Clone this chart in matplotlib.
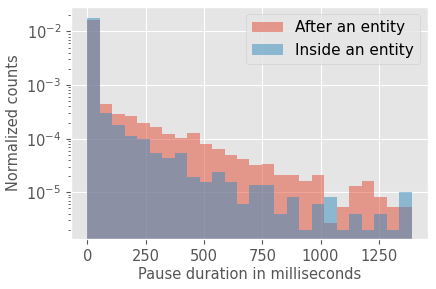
import numpy as np
import matplotlib
matplotlib.use("Agg")
import matplotlib.pyplot as plt

plt.style.use("ggplot")

# Bin edges (ms)
bin_edges = np.linspace(0, 1390, 27)

after_entity = [1.65e-2, 4.43e-4, 2.88e-4, 2.61e-4, 1.96e-4, 1.68e-4, 1.21e-4, 1.01e-4,
                1.26e-4, 7.83e-5, 6.32e-5, 5.03e-5, 4.24e-5, 3.18e-5, 3.42e-5, 2.13e-5,
                2.13e-5, 1.60e-5, 2.13e-5, 2.67e-6, 5.33e-6, 1.33e-5, 1.60e-5, 8.0e-6,
                5.33e-6, 5.33e-6]
inside_entity = [1.75e-2, 3.0e-4, 1.80e-4, 1.12e-4, 9.86e-5, 5.48e-5, 4.31e-5, 5.48e-5,
                 1.96e-5, 1.58e-5, 2.36e-5, 1.58e-5, 6.0e-6, 1.37e-5, 1.37e-5, 4.0e-6,
                 8.0e-6, 2.0e-6, 6.0e-6, 8.0e-6, 2.0e-6, 4.0e-6, 2.0e-6, 4.0e-6,
                 2.0e-6, 1.0e-5]

fig = plt.figure(figsize=(4.36, 2.89), dpi=100)
ax = fig.add_axes([0.163, 0.172, 0.818, 0.805])

centers = bin_edges[:-1]
ax.hist(centers, bins=bin_edges, weights=after_entity, alpha=0.5, label="After an entity")
ax.hist(centers, bins=bin_edges, weights=inside_entity, alpha=0.5, label="Inside an entity")
ax.set_yscale("log")
ax.set_ylim(1.33e-6, 0.0289)
ax.set_xlim(-69.5, 1459)
ax.set_xticks([0, 250, 500, 750, 1000, 1250])
ax.tick_params(labelsize=10.5)
ax.set_xlabel("Pause duration in milliseconds", fontsize=10.5, labelpad=2)
ax.set_ylabel("Normalized counts", fontsize=10.5)
ax.legend(loc="upper right", fontsize=11)

fig.savefig("out.png", dpi=100)
